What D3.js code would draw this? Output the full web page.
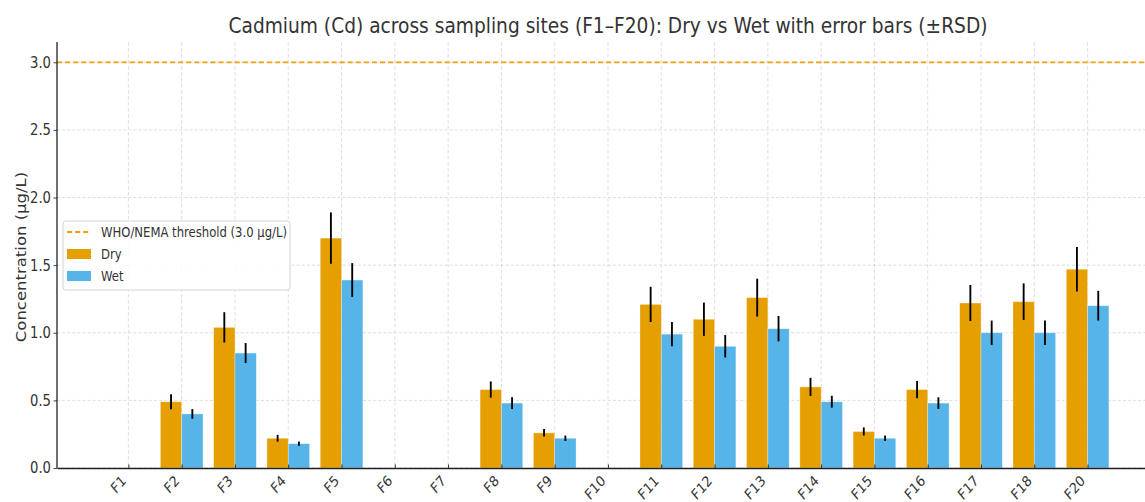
<!DOCTYPE html>
<html>
<head>
<meta charset="utf-8">
<script src="https://cdn.jsdelivr.net/npm/d3@7"></script>
<style>
  html, body { margin: 0; padding: 0; background: #fff; }
  svg { display: block; }
  text { font-family: "DejaVu Sans", sans-serif; fill: #333; }
</style>
</head>
<body>
<script>
// Cadmium concentrations per sampling site (µg/L); null = not detected / no data
const sites  = ["F1","F2","F3","F4","F5","F6","F7","F8","F9","F10",
                "F11","F12","F13","F14","F15","F16","F17","F18","F20"];
const dry    = [null, 0.49, 1.04, 0.22, 1.70, null, null, 0.58, 0.26, null,
                1.21, 1.10, 1.26, 0.60, 0.27, 0.58, 1.22, 1.23, 1.47];
const wet    = [null, 0.40, 0.85, 0.18, 1.39, null, null, 0.48, 0.22, null,
                0.99, 0.90, 1.03, 0.49, 0.22, 0.48, 1.00, 1.00, 1.20];
const dryErr = [null, 0.055, 0.112, 0.025, 0.19, null, null, 0.06, 0.028, null,
                0.13, 0.123, 0.14, 0.067, 0.03, 0.064, 0.133, 0.135, 0.164];
const wetErr = [null, 0.036, 0.074, 0.016, 0.125, null, null, 0.044, 0.02, null,
                0.089, 0.083, 0.094, 0.044, 0.02, 0.043, 0.09, 0.09, 0.11];
const yTicks = [0.0, 0.5, 1.0, 1.5, 2.0, 2.5, 3.0];
const threshold = 3.0;
const thresholdLabel = "WHO/NEMA threshold (3.0 µg/L)";
const seriesNames = ["Dry", "Wet"];

const W = 1145, H = 502;
const sx = 0.85;                 // horizontal compression of the whole drawing
const colDry = "#E69F00", colWet = "#56B4E9", colThr = "#F0A10A";
const barW = 0.4;

// plot frame in screen pixels
const pLeft = 57, pRight = 1159, pTop = 42, pBottom = 468;

const svg = d3.select("body").append("svg").attr("width", W).attr("height", H);
const g = svg.append("g").attr("transform", `scale(${sx},1)`);
const X = v => v / sx;           // screen x -> inner x

const n = sites.length;
const pad = 0.05 * (n - 1 + 2 * barW);
const x = d3.scaleLinear()
  .domain([-barW - pad, n - 1 + barW + pad])
  .range([X(pLeft), X(pRight)]);
const y = d3.scaleLinear().domain([0, threshold * 1.05]).range([pBottom, pTop]);

// grid
g.append("g").selectAll("line").data(d3.range(n)).join("line")
  .attr("x1", d => x(d)).attr("x2", d => x(d))
  .attr("y1", pTop).attr("y2", pBottom)
  .attr("stroke", "#d2d2d2").attr("stroke-width", 0.8).attr("stroke-dasharray", "3.5,2.5");
g.append("g").selectAll("line").data(yTicks).join("line")
  .attr("x1", X(pLeft)).attr("x2", X(pRight))
  .attr("y1", d => y(d)).attr("y2", d => y(d))
  .attr("stroke", "#d2d2d2").attr("stroke-width", 0.8).attr("stroke-dasharray", "3.5,2.5");

// bars
const rows = sites.map((s, i) => ({ i, s, dry: dry[i], wet: wet[i], dryErr: dryErr[i], wetErr: wetErr[i] }));
const bars = g.append("g");
bars.selectAll("rect.dry").data(rows.filter(r => r.dry != null)).join("rect")
  .attr("class", "dry")
  .attr("x", r => x(r.i - barW)).attr("width", r => x(r.i) - x(r.i - barW))
  .attr("y", r => y(r.dry)).attr("height", r => y(0) - y(r.dry))
  .attr("fill", colDry).attr("stroke", "#fff").attr("stroke-opacity", 0.45).attr("stroke-width", 0.8);
bars.selectAll("rect.wet").data(rows.filter(r => r.wet != null)).join("rect")
  .attr("class", "wet")
  .attr("x", r => x(r.i)).attr("width", r => x(r.i + barW) - x(r.i))
  .attr("y", r => y(r.wet)).attr("height", r => y(0) - y(r.wet))
  .attr("fill", colWet).attr("stroke", "#fff").attr("stroke-opacity", 0.45).attr("stroke-width", 0.8);

// error bars (±RSD)
const errs = g.append("g").attr("stroke", "#000").attr("stroke-width", 2.2);
errs.selectAll("line.dry").data(rows.filter(r => r.dry != null)).join("line")
  .attr("x1", r => x(r.i - barW / 2)).attr("x2", r => x(r.i - barW / 2))
  .attr("y1", r => y(r.dry - r.dryErr)).attr("y2", r => y(r.dry + r.dryErr));
errs.selectAll("line.wet").data(rows.filter(r => r.wet != null)).join("line")
  .attr("x1", r => x(r.i + barW / 2)).attr("x2", r => x(r.i + barW / 2))
  .attr("y1", r => y(r.wet - r.wetErr)).attr("y2", r => y(r.wet + r.wetErr));

// threshold line
g.append("line")
  .attr("x1", X(pLeft)).attr("x2", X(pRight))
  .attr("y1", y(threshold)).attr("y2", y(threshold))
  .attr("stroke", colThr).attr("stroke-width", 1.8).attr("stroke-dasharray", "6,3.5");

// y axis
const yAxis = d3.axisLeft(y).tickValues(yTicks).tickFormat(d3.format(".1f"))
  .tickSize(X(3.5)).tickPadding(X(2.5));
const ya = g.append("g").attr("transform", `translate(${X(pLeft)},0)`).call(yAxis);
ya.select(".domain").remove();
ya.selectAll(".tick line").attr("stroke", "#333").attr("stroke-width", 1);
ya.selectAll(".tick text").attr("font-size", 15.5).attr("fill", "#333");
g.append("line").attr("x1", X(pLeft)).attr("x2", X(pLeft)).attr("y1", pTop).attr("y2", pBottom)
  .attr("stroke", "#222").attr("stroke-width", 1.3 / sx);

// x axis
const xAxis = d3.axisBottom(x).tickValues(d3.range(n)).tickFormat(i => sites[i])
  .tickSizeInner(-3.5).tickSizeOuter(0);
const xa = g.append("g").attr("transform", `translate(0,${pBottom})`).call(xAxis);
xa.select(".domain").attr("stroke", "#222").attr("stroke-width", 1.3);
xa.selectAll(".tick line").attr("stroke", "#333").attr("stroke-width", 1 / sx);
xa.selectAll(".tick text")
  .attr("font-size", 14.8).attr("fill", "#333")
  .attr("text-anchor", "end").attr("dy", null).attr("y", null)
  .attr("transform", `translate(${X(-2)},13.5) rotate(-45)`);

// axis label
g.append("text")
  .attr("transform", `translate(${X(25.5)},${(pTop + pBottom) / 2 + 2}) rotate(-90)`)
  .attr("text-anchor", "middle").attr("font-size", 16.5)
  .text("Concentration (µg/L)");

// title
g.append("text")
  .attr("x", X((pLeft + pRight) / 2)).attr("y", 33)
  .attr("text-anchor", "middle").attr("font-size", 22)
  .attr("textLength", X(759)).attr("lengthAdjust", "spacingAndGlyphs")
  .text("Cadmium (Cd) across sampling sites (F1–F20): Dry vs Wet with error bars (±RSD)");

// legend
const lg = g.append("g");
lg.append("rect")
  .attr("x", X(63)).attr("y", 221).attr("width", X(290) - X(63)).attr("height", 69)
  .attr("rx", 3).attr("fill", "#fff").attr("fill-opacity", 0.85)
  .attr("stroke", "#d0d0d0").attr("stroke-width", 1);
lg.append("line").attr("x1", X(67)).attr("x2", X(91)).attr("y1", 232).attr("y2", 232)
  .attr("stroke", colThr).attr("stroke-width", 1.8).attr("stroke-dasharray", "6,3.5");
const legendItems = [
  { label: thresholdLabel, cy: 232 },
  { label: seriesNames[0], cy: 254, color: colDry },
  { label: seriesNames[1], cy: 276, color: colWet }
];
legendItems.forEach(it => {
  if (it.color) {
    lg.append("rect").attr("x", X(67)).attr("y", it.cy - 5).attr("width", X(91) - X(67)).attr("height", 10)
      .attr("fill", it.color);
  }
  lg.append("text").attr("x", X(101)).attr("y", it.cy).attr("dy", "0.35em")
    .attr("font-size", 13.7).text(it.label);
});
</script>
</body>
</html>
